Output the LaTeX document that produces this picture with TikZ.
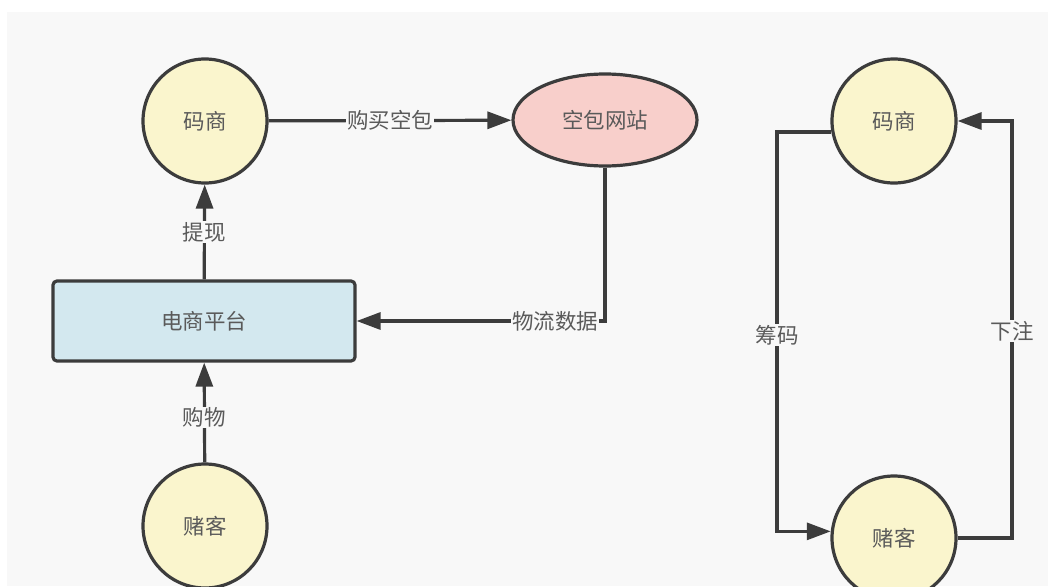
\documentclass[tikz,border=0pt]{standalone}
\usepackage{fontspec}
\setmainfont{Noto Sans CJK SC}
\usepackage{tikz}
\usetikzlibrary{arrows.meta,shapes.geometric}

\definecolor{bgcol}{HTML}{F8F8F8}
\definecolor{yellowfill}{HTML}{FAF5CD}
\definecolor{pinkfill}{HTML}{F8CFCB}
\definecolor{bluefill}{HTML}{D3E8EF}
\definecolor{edgecol}{HTML}{3C3C3C}
\definecolor{textcol}{HTML}{5A5A5A}

\begin{document}
\begin{tikzpicture}[
	x=1pt, y=-1pt,
	font=\fontsize{21.5}{24}\selectfont,
	text=textcol,
	role/.style = {circle, draw=edgecol, line width=3.2pt, fill=yellowfill,
		minimum size=124pt, inner sep=0pt},
	site/.style = {ellipse, draw=edgecol, line width=3.2pt, fill=pinkfill,
		minimum width=184pt, minimum height=92pt, inner sep=0pt},
	platform/.style = {rectangle, rounded corners=4pt, draw=edgecol, line width=3.2pt,
		fill=bluefill, minimum width=302pt, minimum height=80pt, inner sep=0pt},
	flow/.style = {draw=edgecol, line width=3.2pt,
		-{Triangle[length=24pt,width=17pt]}},
	flowlabel/.style = {fill=bgcol, inner sep=1pt}
	]
	% canvas
	\fill[white] (0,0) rectangle (1048,586);
	\fill[bgcol] (7,12) rectangle (1048,586);
	\useasboundingbox (0,0) rectangle (1048,586);

	% left part
	\node [role] (maker) at (205,121) {码商};
	\node [site] (shop) at (605,120) {空包网站};
	\node [platform] (mall) at (204,321) {电商平台};
	\node [role] (gambler) at (205,526) {赌客};

	\draw [flow] (maker) -- node [flowlabel] {购买空包} (shop);
	\draw [flow] (shop) |- node [flowlabel, pos=0.6] {物流数据} (mall);
	\draw [flow] (mall) -- node [flowlabel] {提现} (maker);
	\draw [flow] (gambler) -- node [flowlabel, pos=0.45] {购物} (mall);

	% right part
	\node [role] (maker2) at (894,121) {码商};
	\node [role] (gambler2) at (894,538) {赌客};
	\coordinate (chipturn) at (777,335);
	\coordinate (betturn) at (1012,331);

	\draw [flow] (maker2.190) -| (chipturn) node [flowlabel] {筹码} |- (gambler2.174);
	\draw [flow] (gambler2.east) -| (betturn) node [flowlabel] {下注} |- (maker2.east);
\end{tikzpicture}
\end{document}
